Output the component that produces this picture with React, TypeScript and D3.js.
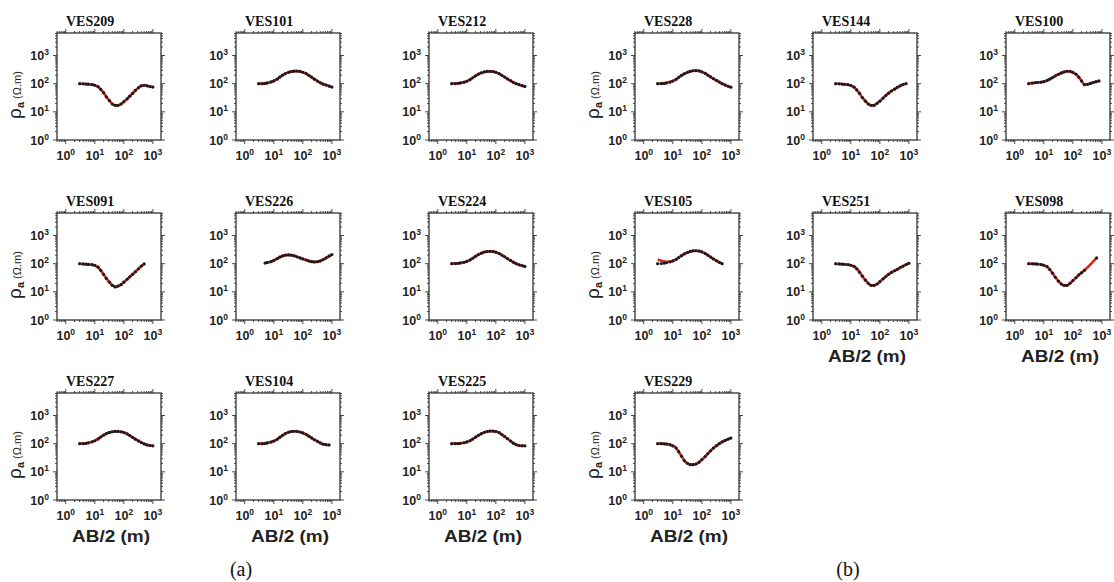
import React from "react";
import * as d3 from "d3";

// ---------- data (AB/2 in m, apparent resistivity in ohm.m) ----------
const AB_1000 = [3, 4, 5, 6, 8, 10, 13, 16, 20, 25, 32, 40, 50, 63, 80, 100, 130, 160, 200, 250, 320, 400, 500, 630, 800, 1000];
const AB_800 = [3, 4, 5, 6, 8, 10, 13, 16, 20, 25, 32, 40, 50, 63, 80, 100, 130, 160, 200, 250, 320, 400, 500, 630, 800];
const AB_500 = [3, 4, 5, 6, 8, 10, 13, 16, 20, 25, 32, 40, 50, 63, 80, 100, 130, 160, 200, 250, 320, 400, 500];
const AB_5_1000 = [5, 6, 8, 10, 13, 16, 20, 25, 32, 40, 50, 63, 80, 100, 130, 160, 200, 250, 320, 400, 500, 630, 800, 1000];
const AB_098 = [3, 4, 5, 6, 8, 10, 13, 16, 20, 25, 32, 40, 50, 63, 80, 100, 130, 160, 200, 250, 660];

const RHO_209 = [100, 99, 97, 96, 93, 88, 78, 63, 48, 34, 25, 19, 17, 17, 19, 23, 29, 36, 45, 58, 72, 84, 88, 84, 79, 76];
const RHO_101 = [100, 100, 102, 106, 115, 125, 145, 170, 200, 228, 252, 268, 278, 280, 272, 255, 228, 198, 170, 145, 124, 108, 97, 89, 82, 76];
const RHO_212 = [100, 101, 103, 106, 113, 122, 140, 162, 190, 218, 243, 262, 272, 274, 268, 252, 226, 198, 172, 148, 128, 112, 100, 92, 85, 80];
const RHO_228 = [100, 100, 102, 106, 114, 124, 143, 168, 197, 225, 252, 275, 288, 292, 283, 263, 233, 202, 174, 150, 130, 114, 100, 90, 81, 75];
const RHO_144 = [100, 99, 97, 95, 92, 86, 75, 60, 45, 32, 24, 19, 17, 17, 20, 24, 31, 38, 46, 55, 64, 74, 84, 94, 100];
const RHO_100 = [100, 105, 108, 110, 113, 118, 130, 145, 165, 190, 215, 240, 262, 276, 272, 250, 215, 170, 125, 92, 95, 102, 110, 118, 125];
const RHO_091 = [100, 98, 96, 94, 92, 87, 75, 58, 42, 30, 22, 17, 15, 16, 18, 22, 28, 34, 42, 52, 66, 82, 98];
const RHO_226 = [105, 110, 118, 130, 150, 170, 188, 200, 205, 200, 190, 175, 160, 148, 135, 125, 118, 115, 118, 125, 140, 160, 185, 210];
const RHO_224 = [100, 101, 103, 106, 112, 120, 136, 156, 182, 210, 236, 258, 270, 274, 270, 256, 230, 202, 176, 152, 130, 113, 100, 91, 85, 80];
const RHO_105 = [100, 101, 104, 108, 116, 125, 142, 165, 192, 222, 250, 272, 285, 288, 280, 262, 232, 200, 172, 148, 127, 112, 100];
const FIT_105 = [140, 128, 120, 116, 118, 125, 142, 165, 192, 222, 250, 272, 285, 288, 280, 262, 232, 200, 172, 148, 127, 112, 100];
const RHO_251 = [100, 98, 96, 95, 92, 88, 80, 66, 50, 36, 26, 20, 17, 17, 19, 23, 29, 35, 42, 49, 56, 63, 72, 82, 93, 103];
const RHO_098 = [100, 99, 98, 97, 93, 88, 78, 62, 46, 33, 24, 19, 17, 17, 20, 25, 32, 40, 48, 58, 160];
const RHO_227 = [100, 100, 103, 107, 116, 127, 147, 172, 200, 228, 250, 265, 272, 272, 264, 248, 222, 195, 168, 145, 125, 110, 98, 90, 86, 84];
const RHO_104 = [100, 100, 102, 106, 114, 124, 143, 168, 198, 228, 254, 270, 276, 272, 260, 240, 212, 185, 160, 138, 120, 106, 96, 92, 90];
const RHO_225 = [100, 100, 101, 103, 108, 115, 128, 146, 170, 198, 226, 252, 270, 280, 280, 270, 245, 212, 180, 150, 124, 104, 92, 86, 84, 84];
const RHO_229 = [100, 100, 99, 97, 92, 84, 70, 52, 36, 25, 20, 18, 18, 19, 22, 27, 35, 44, 56, 70, 85, 100, 115, 130, 145, 158];

const X_TICK_EXP = [0, 1, 2, 3];
const Y_TICK_EXP = [0, 1, 2, 3];

type Panel = {
  name: string; col: number; row: number; ab: number[]; rho: number[]; fit?: number[];
  yLabel: boolean; xLabel: boolean;
};

const PANELS: Panel[] = [
  { name: "VES209", col: 0, row: 0, ab: AB_1000, rho: RHO_209, yLabel: true, xLabel: false },
  { name: "VES101", col: 1, row: 0, ab: AB_1000, rho: RHO_101, yLabel: false, xLabel: false },
  { name: "VES212", col: 2, row: 0, ab: AB_1000, rho: RHO_212, yLabel: false, xLabel: false },
  { name: "VES228", col: 3, row: 0, ab: AB_1000, rho: RHO_228, yLabel: true, xLabel: false },
  { name: "VES144", col: 4, row: 0, ab: AB_800, rho: RHO_144, yLabel: false, xLabel: false },
  { name: "VES100", col: 5, row: 0, ab: AB_800, rho: RHO_100, yLabel: false, xLabel: false },
  { name: "VES091", col: 0, row: 1, ab: AB_500, rho: RHO_091, yLabel: true, xLabel: false },
  { name: "VES226", col: 1, row: 1, ab: AB_5_1000, rho: RHO_226, yLabel: false, xLabel: false },
  { name: "VES224", col: 2, row: 1, ab: AB_1000, rho: RHO_224, yLabel: false, xLabel: false },
  { name: "VES105", col: 3, row: 1, ab: AB_500, rho: RHO_105, fit: FIT_105, yLabel: true, xLabel: false },
  { name: "VES251", col: 4, row: 1, ab: AB_1000, rho: RHO_251, yLabel: false, xLabel: true },
  { name: "VES098", col: 5, row: 1, ab: AB_098, rho: RHO_098, yLabel: false, xLabel: true },
  { name: "VES227", col: 0, row: 2, ab: AB_1000, rho: RHO_227, yLabel: true, xLabel: true },
  { name: "VES104", col: 1, row: 2, ab: AB_800, rho: RHO_104, yLabel: false, xLabel: true },
  { name: "VES225", col: 2, row: 2, ab: AB_1000, rho: RHO_225, yLabel: false, xLabel: true },
  { name: "VES229", col: 3, row: 2, ab: AB_1000, rho: RHO_229, yLabel: true, xLabel: true },
];

// ---------- layout ----------
const COL_LEFT = [57, 236, 429, 635, 813, 1006];
const ROW_TOP = [33, 213, 393];
const PW = 104;
const PH = 107;
const RED = "#d8261e";
const SANS = "'Liberation Sans', Arial, Helvetica, sans-serif";
const SERIF = "'Liberation Serif', 'Times New Roman', serif";

const x = d3.scaleLog().domain([0.5, 1900]).range([0, PW]);
const y = d3.scaleLog().domain([1, 6300]).range([PH, 0]);
const isMajor = (v: number) => Math.abs(Math.log10(v) - Math.round(Math.log10(v))) < 1e-9;

function PanelView({ p }: { p: Panel }) {
  const left = COL_LEFT[p.col];
  const top = ROW_TOP[p.row];
  const pts = p.ab.map((a, i) => [a, p.rho[i]] as [number, number]);
  const fitPts = p.ab.map((a, i) => [a, (p.fit ?? p.rho)[i]] as [number, number]);
  const line = d3.line<[number, number]>().x(d => x(d[0])).y(d => y(d[1])).curve(d3.curveMonotoneX);
  const xt = x.ticks();
  const yt = y.ticks();
  return (
    <g transform={`translate(${left},${top})`}>
      <text x={9} y={-7} fontFamily={SERIF} fontWeight="bold" fontSize={14} fill="#111">{p.name}</text>
      {xt.map((t, i) => {
        const L = isMajor(t) ? 4 : 2;
        const xx = x(t);
        return (
          <g key={"xt" + i} stroke="#333" strokeWidth={0.9}>
            <line x1={xx} x2={xx} y1={PH} y2={PH + L} />
            <line x1={xx} x2={xx} y1={0} y2={-L} />
          </g>
        );
      })}
      {yt.map((t, i) => {
        const L = isMajor(t) ? 4 : 2;
        const yy = y(t);
        return (
          <g key={"yt" + i} stroke="#333" strokeWidth={0.9}>
            <line x1={0} x2={-L} y1={yy} y2={yy} />
            <line x1={PW} x2={PW + L} y1={yy} y2={yy} />
          </g>
        );
      })}
      <rect x={0} y={0} width={PW} height={PH} fill="none" stroke="#333" strokeWidth={1.3} />
      {X_TICK_EXP.map(e => (
        <text key={"xl" + e} x={x(Math.pow(10, e))} y={PH + 20} textAnchor="middle" fontFamily={SANS} fontWeight="bold" fontSize={12.5} fill="#222">
          10<tspan fontSize={8.5} dy={-5}>{e}</tspan>
        </text>
      ))}
      {Y_TICK_EXP.map(e => (
        <text key={"yl" + e} x={-8} y={y(Math.pow(10, e)) + 4.5} textAnchor="end" fontFamily={SANS} fontWeight="bold" fontSize={12.5} fill="#222">
          10<tspan fontSize={8.5} dy={-5}>{e}</tspan>
        </text>
      ))}
      <path d={line(fitPts) ?? ""} fill="none" stroke={RED} strokeWidth={2.6} />
      {pts.map((d, i) => (
        <circle key={"pt" + i} cx={x(d[0])} cy={y(d[1])} r={1.6} fill="#1a1a1a" />
      ))}
      {p.yLabel && (
        <text transform={`translate(-36,62) rotate(-90)`} textAnchor="middle" fontFamily={SANS} fill="#222">
          <tspan fontSize={19}>ρ</tspan>
          <tspan fontSize={11} fontWeight="bold" dy={3}>a</tspan>
          <tspan fontSize={11} dy={-3}>{"  (Ω.m)"}</tspan>
        </text>
      )}
      {p.xLabel && (
        <text x={PW / 2 + 2} y={PH + 42} textAnchor="middle" fontFamily={SANS} fontWeight="bold" fontSize={16} fill="#222"
          textLength={78} lengthAdjust="spacingAndGlyphs">AB/2 (m)</text>
      )}
    </g>
  );
}

export default function App() {
  return (
    <svg width={1114} height={582} style={{ position: "absolute", left: 0, top: 0, background: "#fff" }}>
      <rect width={1114} height={582} fill="#fff" />
      {PANELS.map(p => <PanelView key={p.name} p={p} />)}
      <text x={241} y={576} textAnchor="middle" fontFamily={SERIF} fontSize={20} fill="#111">(a)</text>
      <text x={848} y={576} textAnchor="middle" fontFamily={SERIF} fontSize={20} fill="#111">(b)</text>
    </svg>
  );
}
